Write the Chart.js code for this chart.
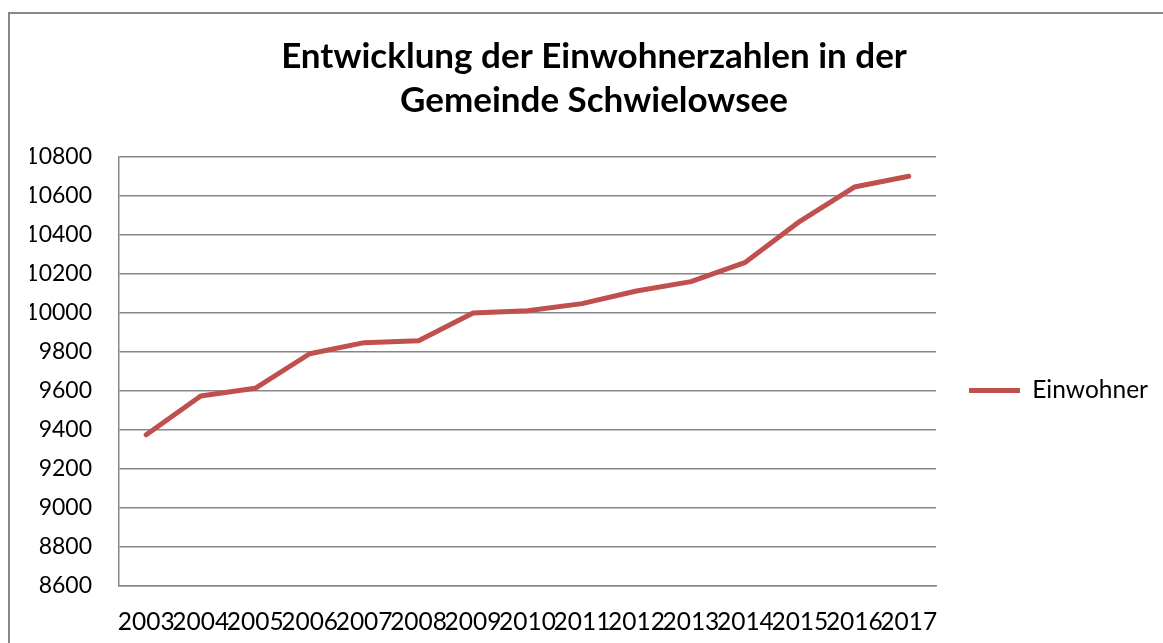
<!DOCTYPE html>
<html>
<head>
<meta charset="utf-8">
<script src="https://cdn.jsdelivr.net/npm/chart.js@4"></script>
<style>
  html, body { margin: 0; padding: 0; background: #fff; }
  body { width: 1163px; height: 643px; overflow: hidden; position: relative; }
  .frame { position: absolute; left: 8px; top: 12px; width: 1300px; height: 800px; border: 2px solid #878787; }
  canvas { position: absolute; left: 0; top: 0; }
</style>
</head>
<body>
<div class="frame"></div>
<canvas id="myChart" width="1163" height="643"></canvas>
<script>
const years = ['2003', '2004', '2005', '2006', '2007', '2008', '2009', '2010',
  '2011', '2012', '2013', '2014', '2015', '2016', '2017']
const einwohner = [9376, 9574, 9614, 9791, 9848, 9858, 10000, 10012,
  10048, 10113, 10161, 10260, 10470, 10646, 10701]
const title_lines = ['Entwicklung der Einwohnerzahlen in der', 'Gemeinde Schwielowsee']
const series_name = 'Einwohner'
const y_min = 8600
const y_max = 10800
const y_step = 200

const red = '#C0504D'
const grey = '#878787'

Chart.defaults.font.family = 'Lato'
Chart.defaults.color = '#000'

const ctx = document.getElementById('myChart')

new Chart(ctx, {
  type: 'line',
  data: {
    labels: years,
    datasets: [{
      label: series_name,
      data: einwohner,
      borderColor: red,
      backgroundColor: red,
      borderWidth: 5,
      borderCapStyle: 'round',
      borderJoinStyle: 'round',
      pointRadius: 0,
      tension: 0
    }]
  },
  options: {
    responsive: false,
    animation: false,
    devicePixelRatio: 1,
    // left padding only moves the title centre, y axis width makes up for it
    layout: { padding: { top: 0, left: 30, right: 5, bottom: 0 } },
    plugins: {
      title: {
        display: true,
        text: title_lines,
        font: { size: 35, weight: 'bold', lineHeight: '44px' },
        padding: { top: 35, bottom: 34 }
      },
      legend: {
        position: 'right',
        fullSize: false,
        // empty title just pushes the item down a bit, like in the original
        title: { display: true, text: ' ', padding: 0, font: { size: 10, lineHeight: '38px' } },
        labels: {
          usePointStyle: true,
          pointStyle: 'line',
          pointStyleWidth: 51,
          padding: 33,
          font: { size: 24.5 }
        }
      },
      tooltip: { enabled: false }
    },
    scales: {
      x: {
        offset: true,
        grid: { display: false, drawTicks: false },
        border: { color: grey, width: 1.5 },
        ticks: { autoSkip: false, maxRotation: 0, padding: 21, font: { size: 24.5 } },
        afterFit: (scale) => { scale.height = 57 }
      },
      y: {
        min: y_min,
        max: y_max,
        ticks: {
          stepSize: y_step,
          padding: 27,
          font: { size: 23 },
          callback: (value) => String(value)
        },
        grid: { color: grey, lineWidth: 1.5, drawTicks: false },
        border: { color: grey, width: 1.5 },
        afterFit: (scale) => { scale.width = 89 }
      }
    }
  }
})
</script>
</body>
</html>
